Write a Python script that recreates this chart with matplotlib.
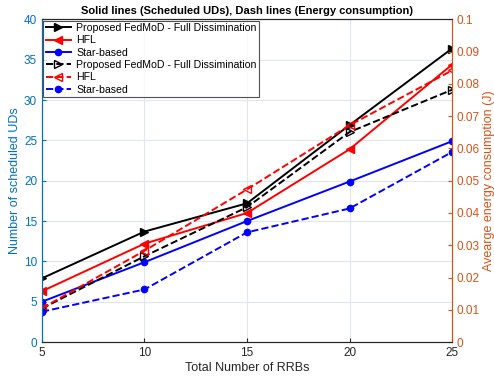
import matplotlib.pyplot as plt

plt.rcParams['font.family'] = ['Liberation Sans', 'DejaVu Sans']

# --- data ---
rrbs = [5, 10, 15, 20, 25]

# scheduled UDs (left axis, solid)
uds_fedmod = [7.9, 13.7, 17.2, 26.9, 36.4]
uds_hfl = [6.3, 12.2, 16.0, 23.9, 34.4]
uds_star = [5.0, 9.9, 15.0, 19.9, 24.9]

# energy consumption (right axis, dashed)
en_fedmod = [0.0104, 0.0266, 0.0418, 0.0651, 0.0782]
en_hfl = [0.0105, 0.0283, 0.0473, 0.0672, 0.0842]
en_star = [0.0094, 0.0163, 0.0340, 0.0414, 0.0589]

labels = ["Proposed FedMoD - Full Dissimination", "HFL", "Star-based"]

c_left = "#0072BD"
c_right = "#D95319"

fig = plt.figure(figsize=(4.94, 3.79), dpi=100)
ax = fig.add_axes([0.085, 0.0976, 0.83, 0.851])
ax2 = ax.twinx()

# solid lines
l1, = ax.plot(rrbs, uds_fedmod, '-', color='k', marker='>', ms=6, lw=1.4)
l2, = ax.plot(rrbs, uds_hfl, '-', color='r', marker='<', ms=6, lw=1.4)
l3, = ax.plot(rrbs, uds_star, '-', color='b', marker='.', ms=9, lw=1.4)

# dashed lines
l4, = ax2.plot(rrbs, en_fedmod, '--', color='k', marker='>', ms=6, lw=1.4, mfc='none')
l5, = ax2.plot(rrbs, en_hfl, '--', color='r', marker='<', ms=6, lw=1.4, mfc='none')
l6, = ax2.plot(rrbs, en_star, '--', color='b', marker='.', ms=9, lw=1.4)

ax.set_xlim(5, 25)
ax.set_ylim(0, 40)
ax2.set_ylim(0, 0.1)
ax.set_xticks([5, 10, 15, 20, 25])
ax.set_yticks(range(0, 41, 5))
ax2.set_yticks([0, 0.01, 0.02, 0.03, 0.04, 0.05, 0.06, 0.07, 0.08, 0.09, 0.1])
ax2.set_yticklabels(['0', '0.01', '0.02', '0.03', '0.04', '0.05', '0.06', '0.07', '0.08', '0.09', '0.1'])

ax.grid(True, color='#dfe6ee', lw=0.8)
ax.set_axisbelow(True)

ax.tick_params(axis='both', direction='in', labelsize=8.5, length=3)
ax.tick_params(axis='x', colors='#262626')
ax.tick_params(axis='y', colors=c_left)
ax2.tick_params(axis='y', direction='in', colors=c_right, labelsize=8.5, length=3)

ax.set_xlabel("Total Number of RRBs", fontsize=9, color='#262626', labelpad=2)
ax.set_ylabel("Number of scheduled UDs", fontsize=9, color=c_left, labelpad=2)
ax2.set_ylabel("Avearge energy consumption (J)", fontsize=9, color=c_right, labelpad=2)
ax.set_title("Solid lines (Scheduled UDs), Dash lines (Energy consumption)",
             fontsize=8, fontweight='bold', pad=4)

for a in (ax, ax2):
    a.spines['left'].set_color(c_left)
    a.spines['right'].set_color(c_right)
    a.spines['top'].set_color('#262626')
    a.spines['bottom'].set_color('#262626')

leg = ax2.legend([l1, l2, l3, l4, l5, l6], labels + labels, loc='upper left',
                 fontsize=7.6, frameon=True, fancybox=False, borderaxespad=0.1,
                 handlelength=2.4, labelspacing=0.22, borderpad=0.25,
                 handletextpad=0.5)
leg.get_frame().set_edgecolor('#262626')
leg.get_frame().set_linewidth(0.8)

fig.savefig("out.png", dpi=100)
